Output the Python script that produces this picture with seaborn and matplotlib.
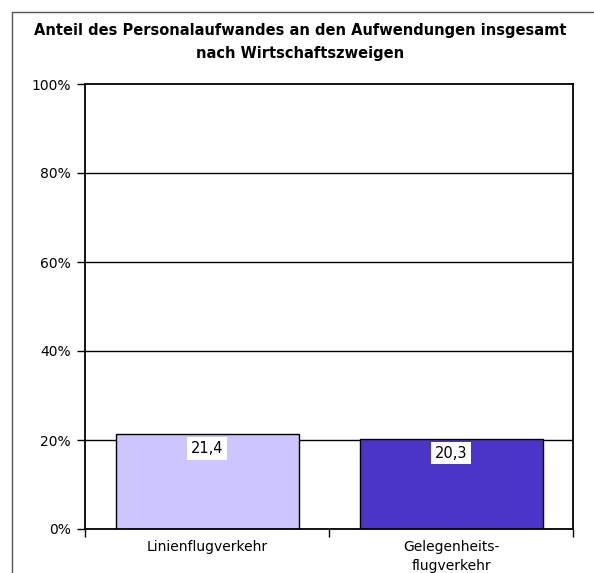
import matplotlib
matplotlib.use("Agg")
import matplotlib.pyplot as plt
import seaborn as sns
import pandas as pd
from matplotlib.patches import Rectangle

categories = ["Linienflugverkehr", "Gelegenheits-\nflugverkehr"]
values = [21.4, 20.3]
value_labels = ["21,4", "20,3"]
colors = ["#CCC5FF", "#4B35C8"]
y_ticks = [0, 20, 40, 60, 80, 100]
y_tick_labels = ["0%", "20%", "40%", "60%", "80%", "100%"]
title = "Anteil des Personalaufwandes an den Aufwendungen insgesamt\nnach Wirtschaftszweigen"

sns.set_theme(style="white")
plt.rcParams["font.family"] = ["DejaVu Sans"]
plt.rcParams["text.color"] = "black"
plt.rcParams["xtick.color"] = "black"
plt.rcParams["ytick.color"] = "black"

df = pd.DataFrame({"cat": categories, "val": values})

fig = plt.figure(figsize=(5.94, 5.73), dpi=100)
ax = fig.add_axes([85/594, 1-529/573, (573-85)/594, (529-84)/573])

for y in y_ticks[1:-1]:
    ax.axhline(y, color="black", lw=1, zorder=0)

sns.barplot(data=df, x="cat", y="val", hue="cat", palette=colors, legend=False,
            saturation=1, width=0.75, edgecolor="black", linewidth=1, ax=ax, zorder=2)

ax.set_ylim(0, 100)
ax.set_xlim(-0.5, 1.5)
ax.set_yticks(y_ticks)
ax.set_yticklabels(y_tick_labels, fontsize=10)
ax.set_xticks([-0.5, 0.5, 1.5])
ax.set_xticklabels(["", "", ""])
ax.set_xticks([0, 1], minor=True)
ax.set_xticklabels(categories, minor=True, fontsize=10, linespacing=1.45)
ax.tick_params(axis="x", which="major", length=6, width=1, color="black", direction="out", bottom=True)
ax.tick_params(axis="x", which="minor", length=0, pad=8)
ax.tick_params(axis="y", length=6, width=1, color="black", direction="out", left=True, pad=4)
ax.set_xlabel("")
ax.set_ylabel("")
for s in ax.spines.values():
    s.set_color("black")
    s.set_linewidth(1.3)
    s.set_visible(True)

for i, (v, lab) in enumerate(zip(values, value_labels)):
    ax.text(i, v - 3.3, lab, ha="center", va="center", fontsize=10.5, color="black",
            bbox=dict(boxstyle="square,pad=0.25", facecolor="white", edgecolor="none"), zorder=5)

fig.text(300/594, 1-42/573, title, ha="center", va="center", fontsize=10.5,
         fontweight="bold", linespacing=1.6, color="black")

fig.add_artist(Rectangle((12/594, -0.1), 1.0, (573-12)/573 + 0.1, transform=fig.transFigure,
                         fill=False, edgecolor="#555555", lw=1))

fig.savefig("out.png", dpi=100)
